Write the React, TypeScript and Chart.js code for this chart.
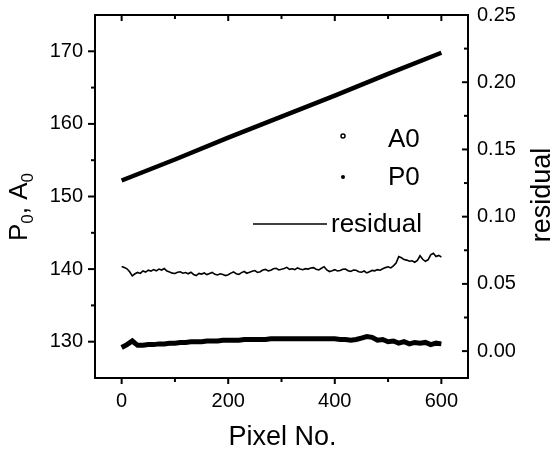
import React, { useEffect, useRef } from "react";
import { Chart, registerables } from "chart.js";

Chart.register(...registerables);

const PIXEL_X = [
  0, 10, 20, 30, 40, 50, 60, 70, 80, 90, 100, 110, 120, 130, 140, 150, 160, 170, 180, 190,
  200, 210, 220, 230, 240, 250, 260, 270, 280, 290, 300, 310, 320, 330, 340, 350, 360, 370, 380, 390,
  400, 410, 420, 430, 440, 450, 460, 470, 480, 490, 500, 510, 520, 530, 540, 550, 560, 570, 580, 590, 600,
];

const A0_VALUES = [
  129.2, 129.6, 130.1, 129.5, 129.5, 129.6, 129.6, 129.7, 129.7, 129.8, 129.8, 129.9, 129.9, 130.0, 130.0, 130.0, 130.1, 130.1, 130.1, 130.2,
  130.2, 130.2, 130.2, 130.3, 130.3, 130.3, 130.3, 130.3, 130.4, 130.4, 130.4, 130.4, 130.4, 130.4, 130.4, 130.4, 130.4, 130.4, 130.4, 130.4,
  130.4, 130.3, 130.3, 130.2, 130.3, 130.5, 130.7, 130.6, 130.2, 130.3, 130.0, 130.1, 129.8, 130.0, 129.7, 129.9, 129.8, 129.9, 129.6, 129.8, 129.7,
];

const RESIDUAL_X = [
  0, 5, 10, 15, 20, 25, 30, 35, 40, 45, 50, 55, 60, 65, 70, 75, 80, 85, 90, 95,
  100, 105, 110, 115, 120, 125, 130, 135, 140, 145, 150, 155, 160, 165, 170, 175, 180, 185, 190, 195,
  200, 205, 210, 215, 220, 225, 230, 235, 240, 245, 250, 255, 260, 265, 270, 275, 280, 285, 290, 295,
  300, 305, 310, 315, 320, 325, 330, 335, 340, 345, 350, 355, 360, 365, 370, 375, 380, 385, 390, 395,
  400, 405, 410, 415, 420, 425, 430, 435, 440, 445, 450, 455, 460, 465, 470, 475, 480, 485, 490, 495,
  500, 505, 510, 515, 520, 525, 530, 535, 540, 545, 550, 555, 560, 565, 570, 575, 580, 585, 590, 595, 600,
];

const RESIDUAL_VALUES = [
  0.063, 0.0622, 0.0612, 0.059, 0.056, 0.0575, 0.0585, 0.0578, 0.0596, 0.0588, 0.0602, 0.0595, 0.0606, 0.0597, 0.061, 0.0603, 0.0614, 0.0596, 0.0588, 0.058,
  0.0577, 0.0586, 0.059, 0.0579, 0.0584, 0.0575, 0.0587, 0.057, 0.0562, 0.0578, 0.0573, 0.0581, 0.0569, 0.0577, 0.0585, 0.0571, 0.0566, 0.0575, 0.057, 0.0562,
  0.0568, 0.058, 0.0589, 0.0576, 0.0571, 0.0584, 0.0592, 0.0579, 0.0586, 0.0594, 0.0599, 0.0585, 0.059, 0.0603, 0.0608, 0.0597, 0.0601, 0.0612, 0.0616, 0.0604,
  0.0609, 0.0615, 0.0623, 0.0608, 0.0612, 0.0606, 0.0619, 0.0611, 0.0605, 0.0613, 0.061, 0.0618, 0.0621, 0.0609, 0.0604, 0.0616, 0.0628, 0.0604, 0.0592, 0.0598,
  0.0606, 0.0596, 0.06, 0.0609, 0.0611, 0.0598, 0.0593, 0.0603, 0.0601, 0.059, 0.0587, 0.0596, 0.0582, 0.0591, 0.06, 0.0597, 0.0606, 0.0602, 0.0613, 0.0621,
  0.0627, 0.0619, 0.0634, 0.0655, 0.0703, 0.0694, 0.0681, 0.0677, 0.0669, 0.0672, 0.0661, 0.0675, 0.0709, 0.0683, 0.0668, 0.0679, 0.0716, 0.0728, 0.0704, 0.0712, 0.07,
];

const P0_X = [0, 100, 200, 300, 400, 500, 600];
const P0_VALUES = [152.2, 155.1, 158.1, 161.0, 163.9, 166.9, 169.8];

const X_TICKS = [0, 200, 400, 600];
const X_MINOR = [100, 300, 500];
const LEFT_TICKS = [130, 140, 150, 160, 170];
const LEFT_MINOR = [135, 145, 155, 165];
const RIGHT_TICKS = [0, 0.05, 0.1, 0.15, 0.2, 0.25];
const RIGHT_MINOR = [0.025, 0.075, 0.125, 0.175, 0.225];

const FONT = '"Liberation Sans", Arial, Helvetica, sans-serif';

const decor = {
  id: "decor",
  afterDraw(chart: any) {
    const { ctx, chartArea } = chart;
    const { left, right, top, bottom } = chartArea;
    const x = chart.scales.x;
    const y = chart.scales.y;
    const y1 = chart.scales.y1;
    ctx.save();
    ctx.strokeStyle = "#000";
    ctx.fillStyle = "#000";
    ctx.lineWidth = 2;
    const seg = (x1: number, y1_: number, x2: number, y2: number) => {
      ctx.beginPath();
      ctx.moveTo(x1, y1_);
      ctx.lineTo(x2, y2);
      ctx.stroke();
    };
    seg(left - 1, top, right + 1, top);
    for (const v of X_TICKS) {
      const px = x.getPixelForValue(v);
      seg(px, top, px, top + 6);
      seg(px, bottom, px, bottom + 6);
    }
    for (const v of X_MINOR) {
      const px = x.getPixelForValue(v);
      seg(px, top, px, top + 4);
      seg(px, bottom, px, bottom + 4);
    }
    for (const v of LEFT_TICKS) {
      const py = y.getPixelForValue(v);
      seg(left, py, left - 7, py);
    }
    for (const v of LEFT_MINOR) {
      const py = y.getPixelForValue(v);
      seg(left, py, left - 4, py);
    }
    for (const v of RIGHT_TICKS) {
      const py = y1.getPixelForValue(v);
      seg(right, py, right - 6, py);
    }
    for (const v of RIGHT_MINOR) {
      const py = y1.getPixelForValue(v);
      seg(right, py, right - 4, py);
    }

    ctx.font = `27px ${FONT}`;
    ctx.textAlign = "center";
    ctx.textBaseline = "alphabetic";
    ctx.fillText("Pixel No.", (left + right) / 2 + 1, 445);

    ctx.save();
    ctx.translate(27, 207);
    ctx.rotate(-Math.PI / 2);
    const big = `26px ${FONT}`;
    const small = `17px ${FONT}`;
    const parts: [string, string, number][] = [
      ["P", big, 0],
      ["0", small, 6],
      [", A", big, 0],
      ["0", small, 6],
    ];
    let total = 0;
    for (const [t, f] of parts) {
      ctx.font = f;
      total += ctx.measureText(t).width;
    }
    let cx = -total / 2;
    ctx.textAlign = "left";
    for (const [t, f, dy] of parts) {
      ctx.font = f;
      ctx.fillText(t, cx, dy);
      cx += ctx.measureText(t).width;
    }
    ctx.restore();

    ctx.save();
    ctx.translate(550, 195);
    ctx.rotate(-Math.PI / 2);
    ctx.font = `27px ${FONT}`;
    ctx.textAlign = "center";
    ctx.fillText("residual", 0, 0);
    ctx.restore();

    ctx.lineWidth = 1.5;
    ctx.beginPath();
    ctx.arc(343, 136, 2, 0, Math.PI * 2);
    ctx.stroke();
    ctx.beginPath();
    ctx.arc(343, 177, 2, 0, Math.PI * 2);
    ctx.fill();
    seg(253, 224, 327, 224);
    ctx.font = `26px ${FONT}`;
    ctx.textAlign = "left";
    ctx.fillText("A0", 388, 147);
    ctx.fillText("P0", 388, 185);
    ctx.fillText("residual", 331, 232);
    ctx.restore();
  },
};

export default function App() {
  const ref = useRef<HTMLCanvasElement | null>(null);
  useEffect(() => {
    if (!ref.current) return;
    const tickFont = { family: FONT, size: 20 };
    const chart = new Chart(ref.current, {
      type: "line",
      data: {
        datasets: [
          {
            label: "P0",
            data: P0_X.map((v, i) => ({ x: v, y: P0_VALUES[i] })),
            borderColor: "#000",
            borderWidth: 4.5,
            pointRadius: 0,
            yAxisID: "y",
          },
          {
            label: "A0",
            data: PIXEL_X.map((v, i) => ({ x: v, y: A0_VALUES[i] })),
            borderColor: "#000",
            borderWidth: 5,
            pointRadius: 0,
            yAxisID: "y",
          },
          {
            label: "residual",
            data: RESIDUAL_X.map((v, i) => ({ x: v, y: RESIDUAL_VALUES[i] })),
            borderColor: "#000",
            borderWidth: 1.6,
            pointRadius: 0,
            yAxisID: "y1",
          },
        ],
      },
      options: {
        animation: false,
        responsive: false,
        devicePixelRatio: 1,
        layout: { padding: { top: 15, left: 0, right: 0, bottom: 0 } },
        plugins: { legend: { display: false }, tooltip: { enabled: false } },
        scales: {
          x: {
            type: "linear",
            position: "bottom",
            min: -50,
            max: 650,
            afterBuildTicks: (s: any) => {
              s.ticks = X_TICKS.map((v) => ({ value: v }));
            },
            afterFit: (s: any) => {
              s.height = 73;
              s.paddingLeft = 0;
              s.paddingRight = 0;
            },
            grid: { display: false, drawTicks: false },
            border: { display: true, color: "#000", width: 2 },
            ticks: { color: "#000", font: tickFont, padding: 11, maxRotation: 0 },
          },
          y: {
            type: "linear",
            position: "left",
            min: 125,
            max: 175,
            afterBuildTicks: (s: any) => {
              s.ticks = LEFT_TICKS.map((v) => ({ value: v }));
            },
            afterFit: (s: any) => {
              s.width = 95;
              s.paddingTop = 0;
              s.paddingBottom = 0;
            },
            grid: { display: false, drawTicks: false },
            border: { display: true, color: "#000", width: 2 },
            ticks: { color: "#000", font: tickFont, padding: 12 },
          },
          y1: {
            type: "linear",
            position: "right",
            min: -0.02,
            max: 0.25,
            afterBuildTicks: (s: any) => {
              s.ticks = RIGHT_TICKS.map((v) => ({ value: v }));
            },
            afterFit: (s: any) => {
              s.width = 85;
              s.paddingTop = 0;
              s.paddingBottom = 0;
            },
            grid: { display: false, drawTicks: false },
            border: { display: true, color: "#000", width: 2 },
            ticks: {
              color: "#000",
              font: tickFont,
              padding: 9,
              callback: (v: any) => Number(v).toFixed(2),
            },
          },
        },
      },
      plugins: [decor],
    });
    return () => chart.destroy();
  }, []);
  return (
    <div style={{ position: "absolute", left: 0, top: 0, width: 553, height: 451, background: "#fff" }}>
      <canvas ref={ref} width={553} height={451} />
    </div>
  );
}
